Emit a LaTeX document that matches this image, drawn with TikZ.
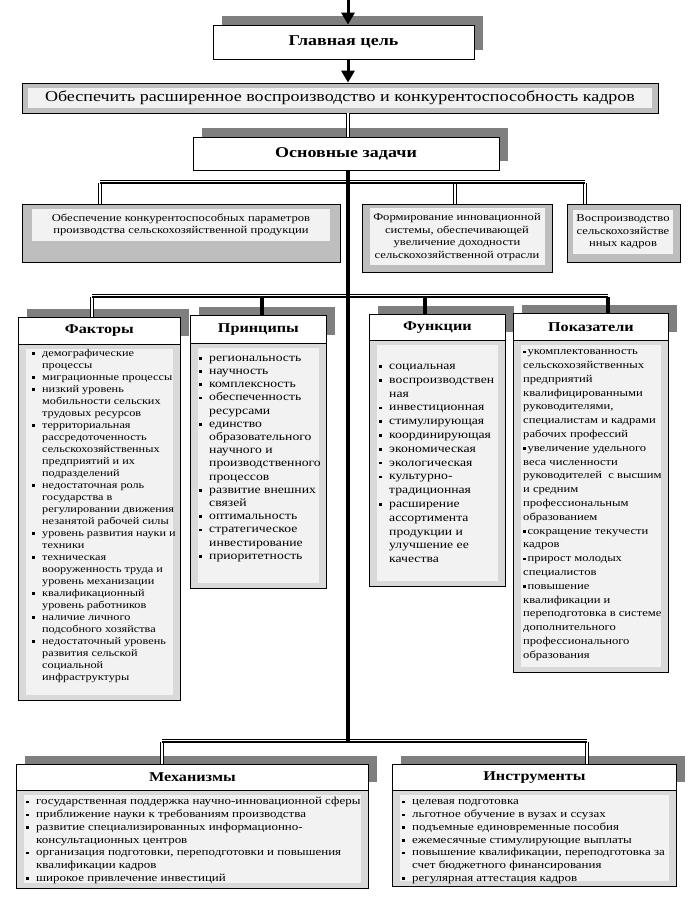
\documentclass[tikz,border=0pt]{standalone}
\usepackage{fontspec}
\setmainfont[FakeStretch=1.2]{Liberation Serif}
\usetikzlibrary{positioning, calc, arrows.meta}

\definecolor{shadowgray}{HTML}{7F7F7F}
\definecolor{taskgray}{HTML}{BEBEBE}
\definecolor{bodygray}{HTML}{D9D9D9}
\definecolor{paper}{HTML}{F2F2F2}

% small square bullet
\newcommand{\sq}{\rule[0.3ex]{2.6pt}{2.6pt}}
% bulleted list: rows "\sq & first line\\ & next line\\"
\newcommand{\blist}[1]{\noindent\begin{tabular}[t]{@{}p{10pt}@{}l@{}}#1\end{tabular}}
% plain list: rows of text
\newcommand{\plist}[1]{\noindent\begin{tabular}[t]{@{}l@{}}#1\end{tabular}}

\newcommand{\catbox}[8]{%
    % #1 name, #2 top-left corner, #3 width, #4 header height, #5 body height, #6 title, #7 list offset, #8 list
    \coordinate (#1-nw) at #2;
    % Shadow behind the header
    \fill[shadowgray] ($(#1-nw)+(9,-8)$) rectangle ++(#3,#4);
    % Header
    \node[head_style, minimum width=#3, minimum height=#4, anchor=north west] (#1) at (#1-nw) {#6};
    % Body with light inner panel
    \draw[body_style] (#1.south west) rectangle ++(#3,#5) coordinate (#1-se);
    \fill[paper] ($(#1.south west)+(8,4)$) rectangle ($(#1-se)+(-7,-6)$);
    \node[list_style, anchor=north west] (#1-list) at ($(#1.south west)+#7$) {#8};
}

\begin{document}
\begin{tikzpicture}[
        x=1pt, y=-1pt,
        arrow/.style={-{Triangle[width=13pt,length=12pt]}, line width=3pt},
        stem/.style={line width=3.2pt},
        link/.style={double, line width=1.2pt, double distance=1.1pt},
        busline/.style={line width=2.6pt},
        frame_style/.style={draw=black, line width=0.8pt},
        plain_box/.style={frame_style, fill=white, inner sep=0pt, font=\fontsize{15}{17}\selectfont\bfseries},
        head_style/.style={frame_style, fill=white, inner sep=0pt, font=\fontsize{13.5}{15}\selectfont\bfseries},
        body_style/.style={frame_style, fill=bodygray},
        task_style/.style={frame_style, fill=taskgray, inner sep=0pt},
        task_text/.style={align=center, font=\fontsize{10.5}{12.5}\selectfont},
        list_style/.style={inner sep=0pt, align=left, font=\fontsize{10.2}{12}\selectfont}
    ]
    \useasboundingbox (0,0) rectangle (700,897);

    % =========================================================================
    % 1. GOAL AND MAIN TASKS
    % =========================================================================
    \coordinate (top) at (348,0);

    \fill[shadowgray] (222,16) rectangle ++(261,34);
    \node[plain_box, minimum width=261, minimum height=34] (goal) at (343.5,42) {Главная цель};

    \node[task_style, minimum width=636, minimum height=30] (aim) at (340,98) {};
    \fill[paper] ($(aim.south west)+(6,-5)$) rectangle ($(aim.north east)+(-6,5)$);
    \node[font=\fontsize{15}{17}\selectfont] (aim-text) at (aim) {Обеспечить расширенное воспроизводство и конкурентоспособность кадров};

    \fill[shadowgray] (202,128) rectangle ++(306,33);
    \node[plain_box, minimum width=306, minimum height=33] (tasks) at (346,153.5) {Основные задачи};

    \draw[arrow] (top) -- (top |- goal.north);
    \draw[arrow] (goal.south -| top) -- (top |- aim.north);
    \draw[link] (aim.south -| top) -- (top |- tasks.north);

    % =========================================================================
    % 2. TASK BOXES
    % =========================================================================
    \node[task_style, minimum width=318, minimum height=58, anchor=north west] (task1) at (22,204) {};
    \fill[paper] (32,209) rectangle (330,241);
    \node[task_text] (task1-text) at (181,225) {Обеспечение конкурентоспособных параметров\\производства сельскохозяйственной продукции};

    \node[task_style, minimum width=190, minimum height=68, anchor=north west] (task2) at (362,204) {};
    \fill[paper] (370,208) rectangle (545,265);
    \node[task_text] (task2-text) at (457,237) {Формирование инновационной\\системы, обеспечивающей\\увеличение доходности\\сельскохозяйственной отрасли};

    \node[task_style, minimum width=113, minimum height=58, anchor=north west] (task3) at (567,204) {};
    \fill[paper] (573,210) rectangle (673,254);
    \node[task_text] (task3-text) at (623,232) {Воспроизводство\\сельскохозяйстве\\нных кадров};

    % =========================================================================
    % 3. CATEGORY BOXES
    % =========================================================================
    \catbox{factors}{(18,317)}{162}{27}{356}{Факторы}{(14,3)}{\blist{%
        \sq & демографические\\ & процессы\\
        \sq & миграционные процессы\\
        \sq & низкий уровень\\ & мобильности сельских\\ & трудовых ресурсов\\
        \sq & территориальная\\ & рассредоточенность\\ & сельскохозяйственных\\ & предприятий и их\\ & подразделений\\
        \sq & недостаточная роль\\ & государства в\\ & регулировании движения\\ & незанятой рабочей силы\\
        \sq & уровень развития науки и\\ & техники\\
        \sq & техническая\\ & вооруженность труда и\\ & уровень механизации\\
        \sq & квалификационный\\ & уровень работников\\
        \sq & наличие личного\\ & подсобного хозяйства\\
        \sq & недостаточный уровень\\ & развития сельской\\ & социальной\\ & инфраструктуры}}

    \catbox{principles}{(190,315)}{136}{28}{245}{Принципы}{(9,8)}{%
        \fontsize{11.4}{13.2}\selectfont\blist{%
        \sq & региональность\\
        \sq & научность\\
        \sq & комплексность\\
        \sq & обеспеченность\\ & ресурсами\\
        \sq & единство\\ & образовательного\\ & научного и\\ & производственного\\ & процессов\\
        \sq & развитие внешних\\ & связей\\
        \sq & оптимальность\\
        \sq & стратегическое\\ & инвестирование\\
        \sq & приоритетность}}

    \catbox{functions}{(369,314)}{136}{26}{246}{Функции}{(10,5)}{%
        \fontsize{11.4}{13.8}\selectfont\blist{%
        \multicolumn{2}{@{}l@{}}{}\\
        \sq & социальная\\
        \sq & воспроизводствен\\ & ная\\
        \sq & инвестиционная\\
        \sq & стимулирующая\\
        \sq & координирующая\\
        \sq & экономическая\\
        \sq & экологическая\\
        \sq & культурно-\\ & традиционная\\
        \sq & расширение\\ & ассортимента\\ & продукции и\\ & улучшение ее\\ & качества}}

    \catbox{indicators}{(513,313)}{155}{27}{332}{Показатели}{(10,4)}{%
        \fontsize{10.5}{13.8}\selectfont\plist{%
        \sq\,укомплектованность\\ сельскохозяйственных\\ предприятий\\ квалифицированными\\ руководителями,\\ специалистам и кадрами\\ рабочих профессий\\
        \sq\,увеличение удельного\\ веса численности\\ руководителей~ с высшим\\ и средним\\ профессиональным\\ образованием\\
        \sq\,сокращение текучести\\ кадров\\
        \sq\,прирост молодых\\ специалистов\\
        \sq\,повышение\\ квалификации и\\ переподготовка в системе\\ дополнительного\\ профессионального\\ образования}}

    \catbox{mechanisms}{(16,764)}{352}{26}{98}{Механизмы}{(10,5)}{%
        \fontsize{10.8}{12.7}\selectfont\blist{%
        \sq & государственная поддержка научно-инновационной сферы\\
        \sq & приближение науки к требованиям производства\\
        \sq & развитие специализированных информационно-\\ & консультационных центров\\
        \sq & организация подготовки, переподготовки и повышения\\ & квалификации кадров\\
        \sq & широкое привлечение инвестиций}}

    \catbox{tools}{(392,764)}{284}{26}{96}{Инструменты}{(10,5)}{%
        \fontsize{10.8}{12.7}\selectfont\blist{%
        \sq & целевая подготовка\\
        \sq & льготное обучение в вузах и ссузах\\
        \sq & подъемные единовременные пособия\\
        \sq & ежемесячные стимулирующие выплаты\\
        \sq & повышение квалификации, переподготовка за\\ & счет бюджетного финансирования\\
        \sq & регулярная аттестация кадров}}

    % =========================================================================
    % 4. CONNECTORS
    % =========================================================================
    \coordinate (busA) at (348,183);
    \coordinate (busB) at (348,297);
    \coordinate (busC) at (348,742);

    \draw[stem] (tasks.south -| top) -- (busC);

    % Bus to the task boxes
    \coordinate (task1-in) at ($(task1.north west)+(78,0)$);
    \coordinate (task2-in) at ($(task2.north west)+(93,0)$);
    \coordinate (task3-in) at ($(task3.north west)+(18,0)$);
    \draw[link] (task1-in) -- (task1-in |- busA);
    \draw[link] (busA -| task2-in) -- (task2-in);
    \draw[link] (busA -| task3-in) -- (task3-in);
    \draw[busline] (task1-in |- busA) -- (busA -| task3-in);
    \draw[thin] ($(task1-in |- busA)+(0,-3)$) -- ($(busA -| task3-in)+(0,-3)$);

    % Bus to the category boxes
    \coordinate (factors-in) at ($(factors.north west)+(74,0)$);
    \coordinate (principles-in) at ($(principles.north west)+(72,0)$);
    \coordinate (functions-in) at ($(functions.north west)+(56,0)$);
    \coordinate (indicators-in) at ($(indicators.north west)+(95,0)$);
    \draw[link] (factors-in) -- (factors-in |- busB);
    \draw[stem] (busB -| principles-in) -- (principles-in);
    \draw[stem] (busB -| functions-in) -- (functions-in);
    \draw[stem] (busB -| indicators-in) -- (indicators-in);
    \draw[busline] (factors-in |- busB) -- (busB -| indicators-in);
    \draw[thin] ($(factors-in |- busB)+(0,-3)$) -- ($(busB -| indicators-in)+(0,-3)$);

    % Bus to mechanisms and tools
    \coordinate (mechanisms-in) at ($(mechanisms.north west)+(146,0)$);
    \coordinate (tools-in) at ($(tools.north west)+(195,0)$);
    \draw[link] (mechanisms-in) -- (mechanisms-in |- busC);
    \draw[link] (tools-in) -- (tools-in |- busC);
    \draw[busline] (mechanisms-in |- busC) -- (busC -| tools-in);
    \draw[thin] ($(mechanisms-in |- busC)+(0,-3)$) -- ($(busC -| tools-in)+(0,-3)$);

\end{tikzpicture}
\end{document}
